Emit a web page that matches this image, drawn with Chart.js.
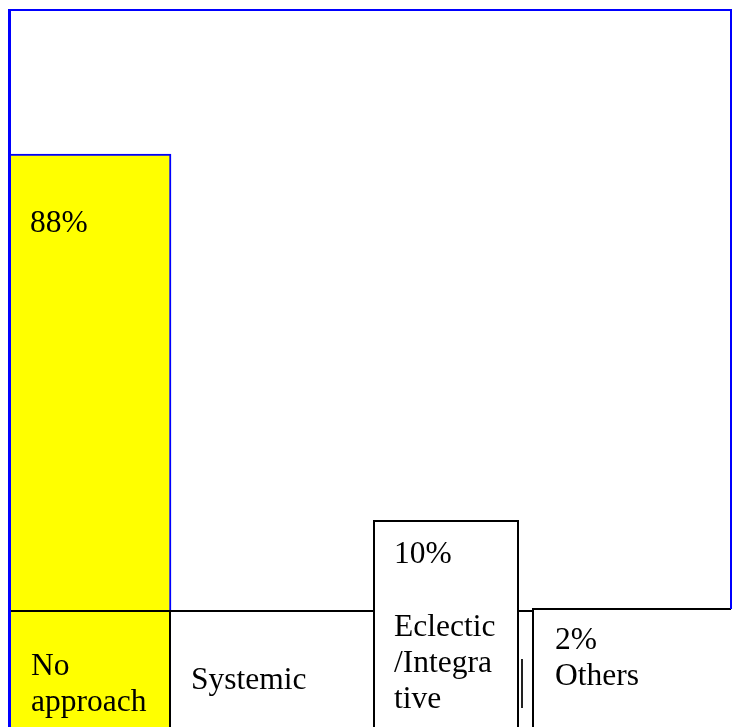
<!DOCTYPE html>
<html>
<head>
<meta charset="utf-8">
<script src="https://cdn.jsdelivr.net/npm/chart.js@4.4.1/dist/chart.umd.min.js"></script>
<style>
  html, body { margin: 0; padding: 0; background: #ffffff; overflow: hidden; }
  #wrap { width: 732px; height: 727px; position: relative; }
  canvas { display: block; }
</style>
</head>
<body>
<div id="wrap"><canvas id="c" width="732" height="727"></canvas></div>
<script>
// ---- data ----
const categories = ["No approach", "Systemic", "Eclectic/Integrative", "Others"];
const labelLines = [["No", "approach"], ["Systemic"], ["Eclectic", "/Integra", "tive"], ["Others"]];
const values = [88, 0, 10, 2];
const valueLabels = values.map(v => (v ? v + "%" : ""));

// ---- styles / layout ----
const YELLOW = "#ffff00";
const BLUE = "#0000ff";
const BLACK = "#000000";
const FONT = '31.5px "Liberation Serif", "Times New Roman", serif';
const LINE_H = 36.3;
const PAD_X = 20;

const tablePlugin = {
  id: "tableCells",
  afterDatasetsDraw(chart) {
    const { ctx, chartArea: ca, scales: { x, y } } = chart;
    const H = chart.height;
    const base = Math.round(y.getPixelForValue(0));
    const bar0 = chart.getDatasetMeta(0).data[0];
    const c0L = bar0.x - bar0.width / 2, c0R = bar0.x + bar0.width / 2;
    const p2 = x.getPixelForValue(2), p3 = x.getPixelForValue(3);
    const c2L = Math.round(p2 - 77.5), c2R = Math.round(p2 + 66.5), c2T = base - 89;
    const c3L = Math.round(p3 - 98.75), c3T = base - 1;

    const seg = (x1, y1, x2, y2, col, w) => {
      ctx.beginPath();
      ctx.strokeStyle = col; ctx.lineWidth = w || 2;
      ctx.moveTo(x1, y1); ctx.lineTo(x2, y2); ctx.stroke();
    };

    ctx.save();
    // yellow label cell under the first bar
    ctx.fillStyle = YELLOW;
    ctx.fillRect(c0L, base, c0R - c0L, H - base);
    // row top line
    seg(c0L, base + 1, c3L, base + 1, BLACK);
    // first cell right border
    seg(c0R - 1, base, c0R - 1, H, BLACK);
    // eclectic cell box
    ctx.fillStyle = "#ffffff";
    ctx.fillRect(c2L, c2T, c2R - c2L, H - c2T);
    seg(c2L, c2T - 1, c2L, H, BLACK);
    seg(c2R, c2T - 1, c2R, H, BLACK);
    seg(c2L - 1, c2T, c2R + 1, c2T, BLACK);
    // small gap cell edge
    seg(c2R + 4, base + 49, c2R + 4, base + 98, "#222222", 2);
    // others cell box
    ctx.fillStyle = "#ffffff";
    ctx.fillRect(c3L, c3T, ca.right - c3L, H - c3T);
    seg(c3L, c3T - 1, c3L, H, BLACK);
    seg(c3L - 1, c3T, ca.right, c3T, BLACK);

    // texts
    ctx.fillStyle = BLACK;
    ctx.font = FONT;
    ctx.textBaseline = "alphabetic";
    ctx.textAlign = "left";
    const drawLines = (lines, tx, ty) => lines.forEach((t, k) => ctx.fillText(t, tx, ty + k * LINE_H));

    // value label inside the big bar
    drawLines([valueLabels[0]], c0L + PAD_X - 1, bar0.y + 78);
    // category cells
    drawLines(labelLines[0], c0L + PAD_X, base + 65);
    drawLines(labelLines[1], c0R + PAD_X, base + 79);
    drawLines([valueLabels[2], ""].concat(labelLines[2]), c2L + PAD_X, base - 47);
    drawLines([valueLabels[3]].concat(labelLines[3]), c3L + 22, base + 39);
    ctx.restore();
  },
  afterDraw(chart) {
    const { ctx, chartArea: ca, scales: { y } } = chart;
    const base = Math.round(y.getPixelForValue(0));
    ctx.save();
    ctx.strokeStyle = BLUE;
    ctx.lineWidth = 2;
    ctx.beginPath();
    ctx.moveTo(ca.left - 2, ca.top); ctx.lineTo(ca.right + 1, ca.top);
    ctx.moveTo(ca.right, ca.top - 1); ctx.lineTo(ca.right, base - 1);
    ctx.stroke();
    ctx.lineWidth = 3;
    ctx.beginPath();
    ctx.moveTo(ca.left - 0.5, ca.top - 1); ctx.lineTo(ca.left - 0.5, chart.height);
    ctx.stroke();
    ctx.restore();
  }
};

const xMin = -0.4494;

new Chart(document.getElementById("c"), {
  type: "bar",
  data: {
    labels: categories,
    datasets: [{
      label: "Share",
      data: values.map((v, i) => ({ x: i, y: v })),
      backgroundColor: values.map((v, i) => (i === 0 ? YELLOW : "#ffffff")),
      borderColor: values.map((v, i) => (i === 0 ? BLUE : "rgba(0,0,0,0)")),
      borderWidth: { top: 2, right: 2, left: 0, bottom: 0 },
      borderSkipped: "bottom",
      barThickness: 160
    }]
  },
  options: {
    responsive: false,
    animation: false,
    devicePixelRatio: 1,
    layout: { padding: { left: 10, right: 1, top: 10, bottom: 117 } },
    scales: {
      x: { type: "linear", min: xMin, max: xMin + 4, offset: false, display: false },
      y: { type: "linear", min: 0, max: 115.79, display: false }
    },
    plugins: { legend: { display: false }, tooltip: { enabled: false } }
  },
  plugins: [tablePlugin]
});
</script>
</body>
</html>
